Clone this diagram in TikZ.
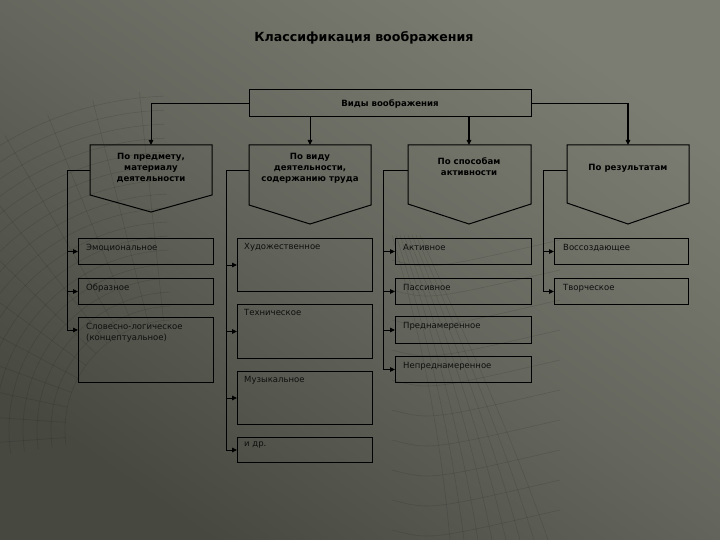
\documentclass[tikz,border=0pt]{standalone}
\usepackage{fontspec}
\setmainfont{DejaVu Sans}
\usetikzlibrary{arrows.meta,calc}
\definecolor{bgDark}{HTML}{474840}
\definecolor{bgMid}{HTML}{64655C}
\definecolor{bgLight}{HTML}{7C7D72}
\definecolor{ink}{HTML}{0E0E0E}
\tikzset{
  ln/.style={draw=black, line width=1pt},
  arr/.style={ln, -{Triangle[length=5pt,width=4.5pt]}},
  leaf/.style={draw=black, line width=1pt, rectangle, inner sep=0pt, anchor=north west, minimum width=135pt},
  leaftext/.style={anchor=north west, inner sep=0pt, font=\fontsize{8.5}{11}\selectfont, text=ink, align=left},
  headtext/.style={font=\bfseries\fontsize{8.6}{11}\selectfont, text=black, align=center, inner sep=0pt},
  pent/.style={draw=black, line width=1pt},
  mesh/.style={draw=black, opacity=0.11, line width=0.6pt}
}
\begin{document}
\begin{tikzpicture}[x=1pt,y=-1pt]
\shade[top color=bgLight, bottom color=bgDark, middle color=bgMid, shading angle=-35] (0,0) rectangle (720,540);
\useasboundingbox (0,0) rectangle (720,540);

% decorative background mesh
\begin{scope}
\clip (0,0) rectangle (720,540);
\foreach \r in {110,124,...,340} {
  \draw[mesh] (175,430) ++(172:\r) arc[start angle=172, end angle=268, radius=\r];
}
\foreach \a in {176,184,...,264} {
  \draw[mesh] (175,430) ++(\a:110) -- ++(\a:230);
}
\foreach \k in {0,1,...,7} {
  \draw[mesh] ({392+4*\k},235) .. controls ({420+6*\k},330) and ({440+10*\k},430) .. ({450+14*\k},540);
}
\foreach \yy in {260,290,...,530} {
  \draw[mesh] (392,\yy) .. controls (430,{\yy+10}) .. (560,{\yy-20});
}
\end{scope}

% title
\node[font=\bfseries\fontsize{12.6}{15}\selectfont, text=black] (title) at (364,38) {Классификация воображения};

% top box
\node[draw=black, line width=1pt, minimum width=282pt, minimum height=27pt, inner sep=0pt,
      font=\bfseries\fontsize{8.6}{10}\selectfont] (vid) at (390,103.5) {Виды воображения};

% pentagons
\draw[pent] (90,145) -- (212,145) -- (212,195) -- (151,212) -- (90,195) -- cycle;
\draw[pent] (249,145) -- (371,145) -- (371,205) -- (310,224) -- (249,205) -- cycle;
\draw[pent] (408,145) -- (531,145) -- (531,204) -- (469,224) -- (408,204) -- cycle;
\draw[pent] (567,145) -- (689,145) -- (689,203) -- (628,224) -- (567,203) -- cycle;
\coordinate (p1t) at (151,145); \coordinate (p1l) at (90,171);
\coordinate (p2t) at (310,145); \coordinate (p2l) at (249,171);
\coordinate (p3t) at (469,145); \coordinate (p3l) at (408,171);
\coordinate (p4t) at (628,145); \coordinate (p4l) at (567,171);

\node[headtext] (h1) at (151,168) {По предмету,\\материалу\\деятельности};
\node[headtext] (h2) at (310,168) {По виду\\деятельности,\\содержанию труда};
\node[headtext] (h3) at (469,167) {По способам\\активности};
\node[headtext] (h4) at (628,168) {По результатам};

% arrows from top box
\draw[arr] (vid.west) -| (p1t);
\draw[arr] (vid.south -| p2t) -- (p2t);
\draw[arr, line width=1.4pt] (vid.south -| p3t) -- (p3t);
\draw[arr, line width=1.4pt] (vid.east) -| (p4t);

% column 1
\node[leaf, minimum height=26pt] (e1) at (78,238) {};
\node[leaf, minimum height=26pt] (e2) at (78,278) {};
\node[leaf, minimum height=65pt] (e3) at (78,317) {};
\node[leaftext] (t11) at ($(e1.north west)+(8,6)$) {Эмоциональное};
\node[leaftext] (t12) at ($(e2.north west)+(8,6)$) {Образное};
\node[leaftext] (t13) at ($(e3.north west)+(8,6)$) {Словесно-логическое\\(концептуальное)};
\coordinate (c1) at (67,171);
\draw[ln] (p1l) -- (c1);
\draw[arr] (c1) |- (e1.west);
\draw[arr] (c1) |- (e2.west);
\draw[arr] (c1) |- ($(e3.north west)+(0,13)$);

% column 2
\node[leaf, minimum height=53pt] (f1) at (237,238) {};
\node[leaf, minimum height=54pt] (f2) at (237,304) {};
\node[leaf, minimum height=53pt] (f3) at (237,371) {};
\node[leaf, minimum height=25pt] (f4) at (237,437) {};
\node[leaftext] (t21) at ($(f1.north west)+(7,5)$) {Художественное};
\node[leaftext] (t22) at ($(f2.north west)+(7,5)$) {Техническое};
\node[leaftext] (t23) at ($(f3.north west)+(7,5)$) {Музыкальное};
\node[leaftext] (t24) at ($(f4.north west)+(7,5)$) {и др.};
\coordinate (c2) at (226,171);
\draw[ln] (p2l) -- (c2);
\draw[arr] (c2) |- (f1.west);
\draw[arr] (c2) |- (f2.west);
\draw[arr] (c2) |- (f3.west);
\draw[arr] (c2) |- (f4.west);

% column 3
\node[leaf, minimum width=136pt, minimum height=26pt] (g1) at (395,238) {};
\node[leaf, minimum width=136pt, minimum height=26pt] (g2) at (395,278) {};
\node[leaf, minimum width=136pt, minimum height=27pt] (g3) at (395,316) {};
\node[leaf, minimum width=136pt, minimum height=26pt] (g4) at (395,356) {};
\node[leaftext] (t31) at ($(g1.north west)+(8,6)$) {Активное};
\node[leaftext] (t32) at ($(g2.north west)+(8,6)$) {Пассивное};
\node[leaftext] (t33) at ($(g3.north west)+(8,6)$) {Преднамеренное};
\node[leaftext] (t34) at ($(g4.north west)+(8,6)$) {Непреднамеренное};
\coordinate (c3) at (383,171);
\draw[ln] (p3l) -- (c3);
\draw[arr] (c3) |- (g1.west);
\draw[arr] (c3) |- (g2.west);
\draw[arr] (c3) |- (g3.west);
\draw[arr] (c3) |- (g4.west);

% column 4
\node[leaf, minimum width=134pt, minimum height=26pt] (k1) at (554,238) {};
\node[leaf, minimum width=134pt, minimum height=26pt] (k2) at (554,278) {};
\node[leaftext] (t41) at ($(k1.north west)+(9,6)$) {Воссоздающее};
\node[leaftext] (t42) at ($(k2.north west)+(9,6)$) {Творческое};
\coordinate (c4) at (543,171);
\draw[ln] (p4l) -- (c4);
\draw[arr] (c4) |- (k1.west);
\draw[arr] (c4) |- (k2.west);
\end{tikzpicture}
\end{document}
